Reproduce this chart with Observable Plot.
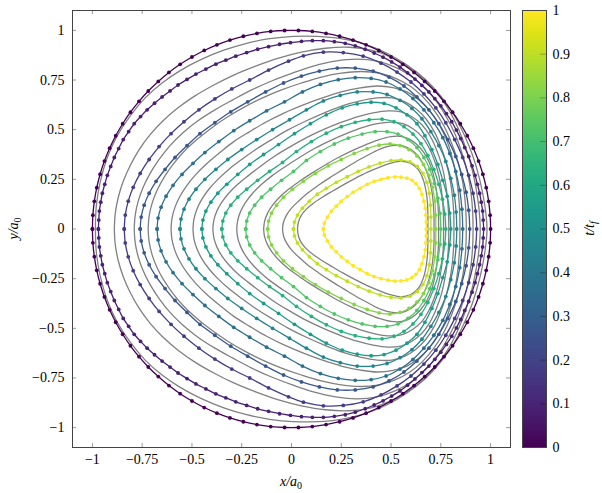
<!DOCTYPE html>
<html><head><meta charset="utf-8">
<script src="https://cdn.jsdelivr.net/npm/d3@7"></script>
<script src="https://cdn.jsdelivr.net/npm/@observablehq/plot@0.6"></script>
<style>
body{margin:0;background:#fff;}
#wrap{position:relative;width:602px;height:493px;}
#main{position:absolute;left:0;top:0;}
#cbar{position:absolute;left:512px;top:0;}
</style></head><body><div id="wrap"><div id="main"></div><div id="cbar"></div></div>
<script>
// t/t_f of each snapshot
const times = [0, 0.0909, 0.1818, 0.2727, 0.3636, 0.4545, 0.5455, 0.6364, 0.7273, 0.8182, 0.9091, 1];
// numerical interfaces (upper half, x/a0, y/a0)
const c0 = [[-1,0],[-0.9976,0.0698],[-0.9903,0.1392],[-0.9781,0.2079],[-0.9613,0.2756],[-0.9397,0.342],[-0.9135,0.4067],[-0.8829,0.4695],[-0.848,0.5299],[-0.809,0.5878],[-0.766,0.6428],[-0.7193,0.6947],[-0.6691,0.7431],[-0.6157,0.788],[-0.5592,0.829],[-0.5,0.866],[-0.4384,0.8988],[-0.3746,0.9272],[-0.309,0.9511],[-0.2419,0.9703],[-0.1736,0.9848],[-0.1045,0.9945],[-0.0349,0.9994],[0.0349,0.9994],[0.1045,0.9945],[0.1736,0.9848],[0.2419,0.9703],[0.309,0.9511],[0.3746,0.9272],[0.4384,0.8988],[0.5,0.866],[0.5592,0.829],[0.6157,0.788],[0.6691,0.7431],[0.7193,0.6947],[0.766,0.6428],[0.809,0.5878],[0.848,0.5299],[0.8829,0.4695],[0.9135,0.4067],[0.9397,0.342],[0.9613,0.2756],[0.9781,0.2079],[0.9903,0.1392],[0.9976,0.0698],[1,0]];
const c1 = [[-0.97,0],[-0.968,0.045],[-0.965,0.09],[-0.958,0.135],[-0.95,0.18],[-0.938,0.225],[-0.925,0.27],[-0.908,0.315],[-0.89,0.36],[-0.868,0.405],[-0.845,0.45],[-0.818,0.49],[-0.79,0.53],[-0.758,0.566],[-0.725,0.6],[-0.688,0.633],[-0.65,0.665],[-0.61,0.695],[-0.57,0.725],[-0.525,0.753],[-0.48,0.78],[-0.43,0.805],[-0.38,0.83],[-0.33,0.85],[-0.28,0.87],[-0.225,0.888],[-0.17,0.905],[-0.115,0.918],[-0.06,0.93],[-0.005,0.938],[0.05,0.945],[0.105,0.948],[0.16,0.948],[0.215,0.943],[0.27,0.935],[0.32,0.922],[0.37,0.905],[0.415,0.886],[0.46,0.865],[0.503,0.841],[0.545,0.815],[0.583,0.786],[0.62,0.755],[0.655,0.723],[0.69,0.69],[0.72,0.656],[0.75,0.62],[0.778,0.581],[0.805,0.54],[0.828,0.498],[0.85,0.455],[0.87,0.41],[0.89,0.365],[0.907,0.318],[0.922,0.27],[0.934,0.225],[0.945,0.18],[0.953,0.135],[0.96,0.09],[0.963,0.045],[0.965,0]];
const c2 = [[-0.84,0],[-0.835,0.07],[-0.82,0.14],[-0.795,0.21],[-0.76,0.28],[-0.715,0.35],[-0.665,0.415],[-0.605,0.48],[-0.54,0.54],[-0.465,0.6],[-0.385,0.655],[-0.3,0.705],[-0.21,0.75],[-0.115,0.8],[-0.015,0.845],[0.06,0.872],[0.16,0.89],[0.26,0.888],[0.36,0.87],[0.45,0.835],[0.53,0.79],[0.6,0.74],[0.665,0.68],[0.725,0.61],[0.775,0.535],[0.82,0.45],[0.86,0.36],[0.89,0.27],[0.912,0.18],[0.925,0.09],[0.93,0]];
const c3 = [[-0.76,0],[-0.755,0.06],[-0.74,0.12],[-0.715,0.18],[-0.68,0.24],[-0.635,0.3],[-0.585,0.36],[-0.525,0.42],[-0.46,0.48],[-0.385,0.535],[-0.305,0.59],[-0.22,0.64],[-0.13,0.69],[-0.04,0.735],[0.05,0.77],[0.14,0.795],[0.23,0.81],[0.32,0.81],[0.41,0.795],[0.49,0.765],[0.565,0.72],[0.63,0.665],[0.69,0.6],[0.74,0.53],[0.785,0.45],[0.825,0.365],[0.855,0.275],[0.877,0.185],[0.89,0.095],[0.895,0]];
const c4 = [[-0.675,0],[-0.67,0.055],[-0.655,0.11],[-0.63,0.165],[-0.595,0.22],[-0.55,0.275],[-0.495,0.33],[-0.435,0.385],[-0.365,0.44],[-0.29,0.495],[-0.21,0.545],[-0.125,0.595],[-0.035,0.64],[0.055,0.69],[0.145,0.728],[0.235,0.752],[0.32,0.762],[0.4,0.758],[0.475,0.74],[0.545,0.705],[0.61,0.657],[0.665,0.6],[0.715,0.535],[0.76,0.46],[0.795,0.38],[0.825,0.29],[0.845,0.195],[0.856,0.1],[0.86,0]];
const c5 = [[-0.56,0],[-0.555,0.05],[-0.54,0.1],[-0.515,0.15],[-0.48,0.2],[-0.435,0.25],[-0.38,0.3],[-0.32,0.35],[-0.25,0.4],[-0.175,0.45],[-0.095,0.5],[-0.01,0.55],[0.075,0.6],[0.16,0.645],[0.245,0.673],[0.33,0.69],[0.41,0.69],[0.48,0.677],[0.545,0.648],[0.605,0.607],[0.655,0.555],[0.7,0.49],[0.74,0.42],[0.775,0.34],[0.8,0.255],[0.818,0.17],[0.827,0.085],[0.83,0]];
const c6 = [[-0.45,0],[-0.445,0.045],[-0.43,0.09],[-0.405,0.135],[-0.37,0.18],[-0.325,0.225],[-0.27,0.275],[-0.21,0.325],[-0.14,0.375],[-0.065,0.425],[0.015,0.48],[0.095,0.53],[0.175,0.575],[0.255,0.61],[0.33,0.63],[0.4,0.638],[0.465,0.632],[0.525,0.61],[0.58,0.575],[0.63,0.53],[0.67,0.47],[0.705,0.4],[0.735,0.325],[0.76,0.245],[0.782,0.165],[0.795,0.08],[0.8,0]];
const c7 = [[-0.35,0],[-0.345,0.04],[-0.33,0.08],[-0.305,0.12],[-0.27,0.16],[-0.225,0.2],[-0.17,0.245],[-0.11,0.29],[-0.045,0.335],[0.025,0.39],[0.1,0.44],[0.175,0.482],[0.25,0.515],[0.32,0.537],[0.39,0.55],[0.455,0.553],[0.515,0.54],[0.565,0.515],[0.61,0.478],[0.65,0.43],[0.685,0.37],[0.715,0.3],[0.74,0.225],[0.758,0.15],[0.77,0.075],[0.775,0]];
const c8 = [[-0.23,0],[-0.225,0.04],[-0.21,0.08],[-0.185,0.12],[-0.15,0.16],[-0.105,0.2],[-0.05,0.245],[0.01,0.29],[0.075,0.345],[0.145,0.39],[0.215,0.428],[0.285,0.457],[0.355,0.478],[0.42,0.49],[0.48,0.49],[0.535,0.478],[0.585,0.45],[0.63,0.41],[0.665,0.36],[0.695,0.3],[0.718,0.23],[0.735,0.155],[0.746,0.078],[0.75,0]];
const c9 = [[-0.12,0],[-0.115,0.04],[-0.1,0.08],[-0.075,0.12],[-0.04,0.16],[0.005,0.2],[0.06,0.24],[0.12,0.28],[0.185,0.318],[0.25,0.35],[0.315,0.38],[0.38,0.405],[0.44,0.422],[0.495,0.428],[0.545,0.42],[0.59,0.4],[0.63,0.368],[0.663,0.325],[0.69,0.27],[0.708,0.21],[0.72,0.14],[0.724,0.07],[0.725,0]];
const c10 = [[0.01,0],[0.015,0.035],[0.03,0.07],[0.055,0.105],[0.09,0.14],[0.13,0.175],[0.175,0.205],[0.225,0.235],[0.28,0.263],[0.335,0.29],[0.39,0.313],[0.445,0.332],[0.5,0.344],[0.55,0.347],[0.595,0.338],[0.632,0.315],[0.66,0.28],[0.68,0.235],[0.692,0.18],[0.698,0.12],[0.7,0.06],[0.7,0]];
const c11 = [[0.16,0],[0.165,0.03],[0.18,0.06],[0.2,0.09],[0.225,0.115],[0.25,0.14],[0.28,0.163],[0.31,0.185],[0.345,0.205],[0.38,0.225],[0.415,0.24],[0.45,0.25],[0.485,0.258],[0.52,0.262],[0.55,0.261],[0.58,0.256],[0.605,0.245],[0.625,0.228],[0.642,0.205],[0.655,0.175],[0.665,0.14],[0.672,0.105],[0.675,0.07],[0.677,0.035],[0.677,0]];
// analytical interfaces (grey), upper half, at t1..t11
const g1 = [[-0.985,0],[-0.98,0.12],[-0.96,0.24],[-0.925,0.36],[-0.875,0.47],[-0.81,0.57],[-0.735,0.66],[-0.65,0.735],[-0.555,0.8],[-0.45,0.855],[-0.34,0.9],[-0.225,0.935],[-0.11,0.958],[0.01,0.97],[0.13,0.97],[0.25,0.958],[0.37,0.93],[0.48,0.885],[0.58,0.825],[0.67,0.755],[0.745,0.675],[0.81,0.585],[0.865,0.48],[0.91,0.37],[0.945,0.25],[0.97,0.125],[0.982,0]];
const g2 = [[-0.89,0],[-0.885,0.08],[-0.87,0.16],[-0.845,0.24],[-0.81,0.32],[-0.765,0.4],[-0.71,0.475],[-0.645,0.545],[-0.57,0.61],[-0.485,0.67],[-0.39,0.725],[-0.29,0.775],[-0.18,0.82],[-0.065,0.86],[0.05,0.89],[0.17,0.91],[0.29,0.915],[0.4,0.9],[0.5,0.865],[0.59,0.815],[0.665,0.755],[0.73,0.685],[0.79,0.6],[0.84,0.5],[0.878,0.4],[0.907,0.3],[0.928,0.2],[0.942,0.1],[0.948,0]];
const g3 = [[-0.79,0],[-0.785,0.07],[-0.77,0.14],[-0.745,0.21],[-0.71,0.28],[-0.665,0.35],[-0.61,0.42],[-0.545,0.485],[-0.47,0.545],[-0.385,0.6],[-0.295,0.65],[-0.2,0.7],[-0.1,0.745],[0.005,0.785],[0.11,0.82],[0.22,0.845],[0.33,0.855],[0.43,0.845],[0.52,0.815],[0.6,0.77],[0.67,0.71],[0.73,0.64],[0.78,0.56],[0.825,0.47],[0.86,0.37],[0.887,0.27],[0.903,0.17],[0.91,0.085],[0.912,0]];
const g4 = [[-0.72,0],[-0.715,0.065],[-0.7,0.13],[-0.675,0.195],[-0.64,0.26],[-0.595,0.325],[-0.54,0.39],[-0.475,0.45],[-0.4,0.51],[-0.32,0.565],[-0.235,0.615],[-0.145,0.66],[-0.05,0.7],[0.05,0.735],[0.15,0.765],[0.25,0.785],[0.35,0.793],[0.44,0.785],[0.52,0.76],[0.595,0.72],[0.66,0.665],[0.715,0.6],[0.765,0.52],[0.805,0.43],[0.837,0.335],[0.86,0.235],[0.873,0.13],[0.877,0.06],[0.878,0]];
const g5 = [[-0.605,0],[-0.6,0.055],[-0.585,0.11],[-0.56,0.165],[-0.525,0.22],[-0.48,0.275],[-0.425,0.33],[-0.36,0.385],[-0.29,0.44],[-0.21,0.49],[-0.125,0.54],[-0.035,0.585],[0.06,0.625],[0.155,0.66],[0.25,0.69],[0.345,0.71],[0.43,0.72],[0.51,0.712],[0.58,0.69],[0.64,0.65],[0.695,0.595],[0.742,0.525],[0.78,0.445],[0.808,0.355],[0.828,0.26],[0.84,0.16],[0.845,0.08],[0.846,0]];
const g6 = [[-0.495,0],[-0.49,0.05],[-0.475,0.1],[-0.45,0.15],[-0.415,0.2],[-0.37,0.25],[-0.315,0.3],[-0.25,0.35],[-0.18,0.4],[-0.1,0.45],[-0.015,0.5],[0.075,0.545],[0.165,0.585],[0.255,0.62],[0.345,0.645],[0.43,0.66],[0.505,0.66],[0.57,0.64],[0.625,0.605],[0.675,0.555],[0.717,0.49],[0.75,0.415],[0.778,0.33],[0.798,0.24],[0.81,0.15],[0.815,0.07],[0.816,0]];
const g7 = [[-0.395,0],[-0.39,0.045],[-0.375,0.09],[-0.35,0.135],[-0.315,0.18],[-0.27,0.225],[-0.215,0.27],[-0.15,0.32],[-0.08,0.37],[-0.005,0.415],[0.075,0.46],[0.16,0.5],[0.245,0.535],[0.33,0.565],[0.41,0.585],[0.485,0.595],[0.55,0.59],[0.605,0.565],[0.655,0.525],[0.695,0.47],[0.728,0.4],[0.755,0.32],[0.773,0.235],[0.784,0.15],[0.789,0.07],[0.79,0]];
const g8 = [[-0.275,0],[-0.27,0.045],[-0.255,0.09],[-0.23,0.135],[-0.195,0.18],[-0.15,0.225],[-0.095,0.27],[-0.03,0.315],[0.04,0.36],[0.115,0.405],[0.195,0.445],[0.275,0.48],[0.355,0.51],[0.43,0.53],[0.5,0.538],[0.56,0.53],[0.61,0.505],[0.655,0.465],[0.69,0.41],[0.718,0.345],[0.74,0.27],[0.754,0.19],[0.762,0.1],[0.764,0]];
const g9 = [[-0.14,0],[-0.135,0.04],[-0.12,0.08],[-0.095,0.12],[-0.06,0.16],[-0.015,0.2],[0.04,0.24],[0.1,0.28],[0.165,0.32],[0.235,0.36],[0.305,0.395],[0.375,0.425],[0.44,0.45],[0.5,0.465],[0.555,0.465],[0.605,0.445],[0.645,0.41],[0.68,0.36],[0.705,0.3],[0.722,0.23],[0.733,0.155],[0.738,0.08],[0.739,0]];
const g10 = [[-0.045,0],[-0.04,0.035],[-0.025,0.07],[0,0.105],[0.035,0.14],[0.08,0.18],[0.135,0.22],[0.195,0.26],[0.26,0.3],[0.325,0.34],[0.39,0.375],[0.45,0.405],[0.505,0.42],[0.555,0.42],[0.6,0.4],[0.638,0.365],[0.668,0.315],[0.69,0.255],[0.705,0.19],[0.713,0.12],[0.716,0.06],[0.716,0]];
const g11 = [[0.03,0],[0.035,0.035],[0.05,0.07],[0.075,0.1],[0.11,0.13],[0.155,0.16],[0.205,0.19],[0.26,0.222],[0.32,0.255],[0.38,0.285],[0.44,0.31],[0.495,0.33],[0.54,0.34],[0.58,0.337],[0.615,0.32],[0.643,0.29],[0.663,0.245],[0.676,0.19],[0.683,0.13],[0.685,0.065],[0.685,0]];

const numericalCurves = [c0, c1, c2, c3, c4, c5, c6, c7, c8, c9, c10, c11];
const analyticalCurves = [g1, g2, g3, g4, g5, g6, g7, g8, g9, g10, g11];
const axisTicks = [-1, -0.75, -0.5, -0.25, 0, 0.25, 0.5, 0.75, 1];
const colorTicks = [0, 0.1, 0.2, 0.3, 0.4, 0.5, 0.6, 0.7, 0.8, 0.9, 1];

// close each symmetric contour by mirroring the upper half about y = 0
function closed(half, id, t) {
  const upper = half.map(([x, y]) => ({x, y, id, t}));
  const lower = half.slice(0, -1).reverse().map(([x, y]) => ({x, y: -y, id, t}));
  return upper.concat(lower);
}
const numRows = numericalCurves.flatMap((h, k) => closed(h, "n" + k, times[k]));
const anaRows = analyticalCurves.flatMap((h, k) => closed(h, "a" + k, times[k + 1]));

const fmt = d => (d < 0 ? "\u2212" + String(-d) : String(d));
const FONT = "'Liberation Serif', 'Times New Roman', serif";

const W = 520, H = 493, ML = 72, MR = 10, MT = 10, MB = 46;
const PH = H - MT - MB, PW = W - ML - MR;

const main = Plot.plot({
  width: W, height: H, marginLeft: ML, marginRight: MR, marginTop: MT, marginBottom: MB,
  style: {fontFamily: FONT, fontSize: "14px", color: "#000", background: "transparent"},
  x: {domain: [-1.1, 1.1]},
  y: {domain: [-1.1, 1.1]},
  color: {type: "linear", scheme: "viridis", domain: [0, 1]},
  marks: [
    Plot.tickX(axisTicks, {x: d => d, insetTop: PH - 4, stroke: "#9a9a9a"}),
    Plot.tickX(axisTicks, {x: d => d, insetBottom: PH - 4, stroke: "#9a9a9a"}),
    Plot.tickY(axisTicks, {y: d => d, insetRight: PW - 4, stroke: "#9a9a9a"}),
    Plot.tickY(axisTicks, {y: d => d, insetLeft: PW - 4, stroke: "#9a9a9a"}),
    Plot.axisX({ticks: axisTicks, tickSize: 0, tickPadding: 7, tickFormat: fmt, label: null, fontSize: 14}),
    Plot.axisY({ticks: axisTicks, tickSize: 0, tickPadding: 8, tickFormat: fmt, label: null, fontSize: 14}),
    Plot.line(anaRows, {x: "x", y: "y", z: "id", stroke: "#808080", strokeWidth: 1.3, curve: "catmull-rom"}),
    Plot.line(numRows, {x: "x", y: "y", z: "id", stroke: "t", strokeWidth: 1.3, curve: "catmull-rom"}),
    Plot.dot(numRows, {x: "x", y: "y", fill: "t", r: 1.9}),
    Plot.frame({stroke: "#444", strokeWidth: 1})
  ]
});
document.getElementById("main").appendChild(main);

const cbar = Plot.plot({
  width: 90, height: H, marginLeft: 10, marginRight: 56, marginTop: MT, marginBottom: MB,
  style: {fontFamily: FONT, fontSize: "14px", color: "#000", background: "transparent"},
  x: {domain: [0, 1], axis: null},
  y: {domain: [0, 1]},
  color: {type: "linear", scheme: "viridis", domain: [0, 1]},
  marks: [
    Plot.raster({x1: 0, x2: 1, y1: 0, y2: 1, width: 1, height: 256, fill: (x, y) => y, imageRendering: "auto"}),
    Plot.tickY(colorTicks, {y: d => d, insetLeft: 18, stroke: "#000", strokeOpacity: 0.25}),
    Plot.axisY({anchor: "right", ticks: colorTicks, tickSize: 0, tickPadding: 6, tickFormat: d => String(d), label: null, fontSize: 14}),
    Plot.frame({stroke: "#444", strokeWidth: 1})
  ]
});
document.getElementById("cbar").appendChild(cbar);

// axis titles with subscripts
function title(svg, x, y, rot, parts) {
  const t = d3.select(svg).append("text")
    .attr("transform", `translate(${x},${y}) rotate(${rot})`)
    .attr("text-anchor", "middle").attr("font-family", FONT).attr("font-size", 14).attr("fill", "#000");
  for (const [s, sub, ital] of parts) {
    const ts = t.append("tspan").text(s).attr("font-style", ital ? "italic" : "normal");
    if (sub) ts.attr("font-size", 10).attr("dy", 3);
    else ts.attr("dy", 0);
  }
}
title(main, ML + PW / 2, 486, 0, [["x/a", false, true], ["0", true, false]]);
title(main, 18, MT + PH / 2, -90, [["y/a", false, true], ["0", true, false]]);
title(cbar, 82, MT + PH / 2, -90, [["t/t", false, true], ["f", true, true]]);
</script></body></html>
